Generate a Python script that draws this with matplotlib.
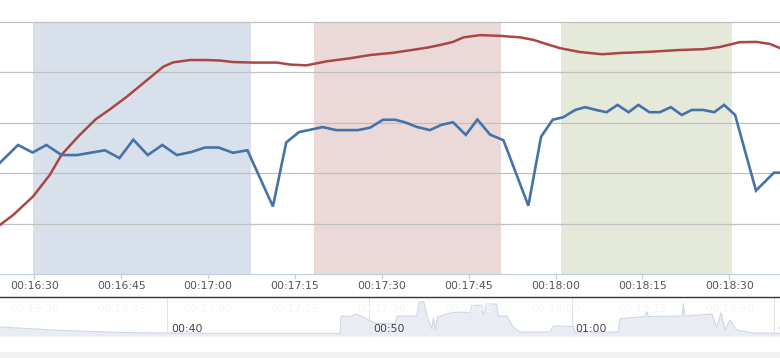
import matplotlib
matplotlib.use("Agg")
import matplotlib.pyplot as plt
from matplotlib.patches import Rectangle

# main series: time in seconds, value on a 0-100 scale
blue_t = [984.1, 987.2, 989.7, 992.1, 994.7, 997.4, 1002.2, 1004.7, 1007.1, 1009.6,
          1012.1, 1014.6, 1017.1, 1019.5, 1021.8, 1024.3, 1026.8, 1031.2, 1033.5, 1035.7,
          1039.8, 1042.1, 1045.9, 1048.0, 1050.2, 1052.3, 1054.0, 1056.0, 1058.3, 1060.3,
          1062.3, 1064.5, 1066.5, 1068.7, 1071.0, 1075.3, 1077.5, 1079.5, 1081.3, 1083.4,
          1085.1, 1087.0, 1088.8, 1090.7, 1092.6, 1094.3, 1096.2, 1098.0, 1099.9, 1101.8,
          1103.5, 1105.5, 1107.4, 1109.1, 1111.0, 1114.6, 1117.7, 1118.8]
blue_v = [44.2, 51.2, 48.2, 51.2, 47.2, 47.2, 49.1, 46.0, 53.3, 47.2,
          51.2, 47.2, 48.4, 50.2, 50.2, 48.1, 49.1, 26.8, 52.2, 56.3,
          58.3, 57.1, 57.1, 58.1, 61.2, 61.2, 60.2, 58.4, 57.1, 59.2,
          60.2, 55.2, 61.3, 55.3, 53.1, 27.1, 54.5, 61.2, 62.2, 65.1,
          66.2, 65.1, 64.2, 67.1, 64.2, 67.1, 64.2, 64.2, 66.2, 63.1,
          65.1, 65.1, 64.2, 67.1, 63.1, 33.1, 40.2, 40.2]

red_t = [984.1, 986.4, 989.8, 992.7, 994.7, 997.6, 1000.6, 1003.1, 1006.0, 1008.8,
         1012.3, 1014.0, 1016.9, 1019.8, 1022.1, 1024.4, 1027.8, 1031.9, 1034.2, 1037.0,
         1040.5, 1044.5, 1048.0, 1052.0, 1054.9, 1057.8, 1060.1, 1062.3, 1064.1, 1067.0,
         1070.4, 1073.9, 1076.2, 1078.5, 1080.8, 1084.2, 1088.0, 1091.1, 1095.7, 1101.5,
         1105.5, 1108.4, 1111.8, 1114.7, 1117.0, 1118.8]
red_v = [19.5, 23.5, 30.8, 39.4, 47.3, 54.6, 61.4, 65.4, 70.4, 75.7,
         82.3, 84.0, 84.9, 84.9, 84.7, 84.1, 83.9, 83.9, 83.1, 82.8,
         84.4, 85.6, 86.9, 87.8, 88.8, 89.8, 90.9, 92.1, 93.9, 94.8,
         94.5, 93.9, 92.9, 91.2, 89.6, 88.1, 87.2, 87.7, 88.1, 88.9,
         89.2, 90.1, 92.0, 92.1, 91.3, 89.6]

band_start = [989.8, 1038.3, 1080.9]
band_end = [1027.4, 1070.6, 1110.5]
band_colors = ["#d8e1eb", "#ebd9d9", "#e5e9da"]

tick_secs = [990, 1005, 1020, 1035, 1050, 1065, 1080, 1095, 1110]
tick_labels = ["00:16:30", "00:16:45", "00:17:00", "00:17:15", "00:17:30",
               "00:17:45", "00:18:00", "00:18:15", "00:18:30"]

# navigator series: minutes, arbitrary height
nav_t = [31.76, 35.07, 38.33, 41.65, 48.56, 48.61, 49.06, 49.35, 49.70, 50.29,
         51.28, 51.38, 52.35, 52.47, 52.71, 52.86, 53.09, 53.17, 53.27, 53.37,
         54.0, 54.49, 54.99, 55.07, 55.56, 55.64, 55.81, 56.30, 56.38, 56.80,
         57.12, 57.45, 58.94, 59.10, 60.09, 60.17, 62.31, 62.40, 63.63, 63.72,
         63.80, 65.46, 65.52, 65.61, 66.93, 67.17, 67.39, 67.58, 67.83, 68.16,
         68.98, 70.30]
nav_v = [9.5, 5.8, 3.8, 3.2, 3.2, 20.5, 20.0, 22.5, 19.5, 13.0,
         13.0, 20.5, 20.5, 34.5, 34.5, 20.5, 7.8, 18.5, 6.5, 19.5,
         23.5, 24.5, 23.5, 31.2, 31.2, 21.5, 32.5, 32.5, 20.5, 20.5,
         9.5, 4.5, 4.5, 10.5, 10.0, 4.5, 4.5, 17.8, 20.0, 25.2,
         20.0, 20.5, 32.8, 20.5, 22.5, 9.5, 23.8, 6.5, 16.5, 6.5,
         3.5, 3.2]
nav_ticks = [40, 50, 60, 70]
nav_labels = ["00:40", "00:50", "01:00", "01:10"]

W, H = 780, 358
fig = plt.figure(figsize=(W / 100, H / 100), dpi=100)

def px_axes(left, top, right, bottom):
    return fig.add_axes([left / W, 1 - bottom / H, (right - left) / W, (bottom - top) / H])

# main chart
ax = px_axes(0, 22, 780, 274)
ax.set_xlim(984.08, 1118.75)
ax.set_ylim(0, 100)
for s, e, c in zip(band_start, band_end, band_colors):
    ax.axvspan(s, e, color=c, lw=0, zorder=0)
for g in [20, 40, 60, 80, 100]:
    ax.axhline(g, color="#c0c0c0", lw=0.9, zorder=1, clip_on=False)
ax.plot(red_t, red_v, color="#aa4643", lw=1.8, zorder=3, solid_joinstyle="round")
ax.plot(blue_t, blue_v, color="#4572a7", lw=1.9, zorder=4, solid_joinstyle="miter")
for sp in ["left", "right", "top"]:
    ax.spines[sp].set_visible(False)
ax.spines["bottom"].set_color("#c0d0e0")
ax.spines["bottom"].set_linewidth(0.9)
ax.set_yticks([])
ax.set_xticks(tick_secs)
ax.set_xticklabels(tick_labels)
ax.tick_params(axis="x", direction="out", length=3.6, width=0.9, color="#c0d0e0",
               labelsize=7.8, labelcolor="#555555", pad=1.5)

# navigator
nav = px_axes(0, 297.3, 780, 336.5)
nav.set_xlim(31.76, 70.30)
nav.set_ylim(0, 39.2)
for g in nav_ticks:
    nav.axvline(g, color="#e2e2e2", lw=0.8, zorder=0)
nav.fill_between(nav_t, nav_v, 0, color="#e9edf3", lw=0, zorder=1)
nav.plot(nav_t, nav_v, color="#cfd9e6", lw=0.8, zorder=2)
# last label is cut at the right edge, as in the original
for g, lab in zip(nav_ticks, nav_labels):
    nav.text(g + 0.2, 7.8, lab, ha="left", va="center", fontsize=7.8, color="#444444",
             zorder=3, clip_on=True)
for sp in ["left", "right", "bottom"]:
    nav.spines[sp].set_visible(False)
nav.spines["top"].set_color("#333333")
nav.spines["top"].set_linewidth(1.0)
nav.set_xticks([])
nav.set_yticks([])

# faint ghost labels inside the navigator
for s, lab in zip(tick_secs, tick_labels):
    xf = (34.3 + (s - 990) * 5.792) / W
    fig.text(xf, 1 - 309.3 / H, lab, ha="center", va="center", fontsize=7.8, color="#f5f6f8")

# scrollbar strip
fig.patches.append(Rectangle((0, 0), 1, (H - 352) / H, transform=fig.transFigure,
                             facecolor="#f2f2f2", edgecolor="none"))

fig.savefig("out.png", dpi=100)
